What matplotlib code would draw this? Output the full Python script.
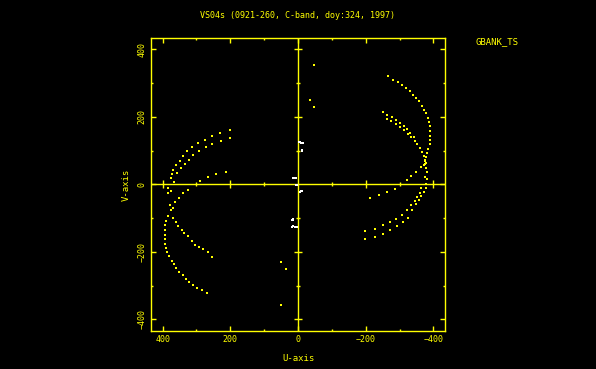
import matplotlib
matplotlib.use("Agg")
import matplotlib.pyplot as plt
import numpy as np

YEL = "#ffff00"

# ---- data (u, v in the chart's units) ----
left_u = [201, 200, 229, 227, 254, 253, 275, 272, 295, 292, 313, 309, 327, 323, 339, 335,
          350, 347, 360, 356, 369, 367, 373, 376,
          213, 243, 267, 290, 324, 339, 351,
          383, 376, 383,
          364, 378, 370, 376, 383, 369, 390, 361, 393, 354, 393, 344, 393, 336, 393, 326,
          393, 314, 390, 305, 386, 292, 380, 280, 373, 265, 367, 255, 359, 351, 341, 332,
          322, 310, 297, 283, 268]
left_v = [160, 137, 153, 130, 143, 120, 133, 110, 122, 98, 110, 87, 98, 74, 84, 61,
          71, 48, 58, 35, 44, 7, 32, 20,
          38, 32, 22, 9, -15, -26, -39,
          -11, -20, -25,
          -52, -62, -69, -77, -94, -100, -109, -111, -121, -123, -135, -134, -149, -144, -162, -154,
          -176, -166, -188, -178, -201, -185, -213, -190, -226, -200, -237, -216, -248, -259, -269, -280,
          -289, -299, -308, -314, -322]

right_u = [-267, -280, -295, -308, -320, -330, -339, -349, -357, -365, -372, -378, -384, -387,
           -391, -391, -391, -391, -389, -385, -382, -377, -374, -371,
           -251, -264, -263, -277, -276, -290, -290, -302, -301, -313, -313, -323, -324, -332,
           -335, -341, -344, -351, -359, -365, -371, -375, -377,
           -374, -377, -381, -374, -381, -362, -347, -335, -322, -287, -264, -239, -212,
           -379, -377, -364, -371, -359, -364, -351, -357, -344, -347, -335, -337, -322, -325,
           -307, -310, -290, -293, -271, -273, -251, -251, -226, -226, -199, -199]
right_v = [320, 311, 305, 296, 287, 276, 266, 255, 246, 234, 222, 211, 198, 184,
           172, 159, 145, 131, 119, 106, 94, 81, 69, 59,
           216, 207, 194, 199, 187, 191, 178, 182, 169, 172, 160, 164, 150, 153,
           142, 142, 130, 120, 107, 96, 84, 73, 63,
           61, 49, 36, 22, 17, 51, 36, 25, 12, -13, -23, -32, -40,
           2, -10, -10, -21, -25, -35, -38, -47, -49, -59, -62, -75, -77, -99,
           -89, -111, -102, -123, -111, -136, -121, -146, -133, -156, -138, -163]

iso_u = [-47, -35, -47, 51, 37, 51]
iso_v = [354, 249, 229, -230, -249, -356]

white_u = [-2, -6, -10, -14, -12, -13, 6, 9, 12, 15, 2, 6, -6, -10, -13, 15, 16, 18, 4, 10, 16, 17]
white_v = [126, 126, 124, 122, 102, 98, 18, 19, 19, 18, -1, -1, -21, -20, -18, -102, -106, -104,
           -125, -125, -124, -127]

major_ticks = [-400, -200, 0, 200, 400]
minor_ticks = [-300, -100, 100, 300]
tick_labels = ["\u2212400", "\u2212200", "0", "200", "400"]

title = "VS04s (0921-260, C-band, doy:324, 1997)"

# ---- figure ----
fig = plt.figure(figsize=(5.96, 3.69), dpi=100, facecolor="black")
ax = fig.add_axes([0.2529, 0.1022, 0.4943, 0.7957], facecolor="black")
ax.set_xlim(435, -435)
ax.set_ylim(-435, 435)

for s in ax.spines.values():
    s.set_color(YEL)
    s.set_linewidth(1.0)

ax.axhline(0, color=YEL, lw=1.0, zorder=2)
ax.axvline(0, color=YEL, lw=1.0, zorder=2)

# cross ticks on the centre lines
nz_major = [t for t in major_ticks if t != 0]
ax.plot(nz_major, [0] * len(nz_major), ls="none", marker="|", ms=6, mew=1.0, color=YEL, zorder=2)
ax.plot(minor_ticks, [0] * len(minor_ticks), ls="none", marker="|", ms=3.5, mew=1.0, color=YEL, zorder=2)
ax.plot([0] * len(nz_major), nz_major, ls="none", marker="_", ms=6, mew=1.0, color=YEL, zorder=2)
ax.plot([0] * len(minor_ticks), minor_ticks, ls="none", marker="_", ms=3.5, mew=1.0, color=YEL, zorder=2)

ax.set_xticks(major_ticks)
ax.set_yticks(major_ticks)
ax.set_xticks(minor_ticks, minor=True)
ax.set_yticks(minor_ticks, minor=True)
ax.set_xticklabels(tick_labels)
ax.set_yticklabels(tick_labels, rotation=90, va="center")
ax.tick_params(which="both", direction="in", top=True, right=True, colors=YEL,
               width=1.0, labelsize=6, labelcolor=YEL)
ax.tick_params(which="major", length=3.3, pad=3)
ax.tick_params(which="minor", length=1.7)
for lab in ax.get_xticklabels() + ax.get_yticklabels():
    lab.set_family("DejaVu Sans Mono")

mk = dict(ls="none", marker="s", ms=1.7, mew=0, zorder=3)
ax.plot(left_u, left_v, color=YEL, **mk)
ax.plot(right_u, right_v, color=YEL, **mk)
ax.plot(iso_u, iso_v, color=YEL, **mk)
ax.plot(white_u, white_v, color="white", **mk)

ax.set_xlabel("U-axis", color=YEL, fontsize=6.5, family="DejaVu Sans Mono", labelpad=7)
ax.set_ylabel("V-axis", color=YEL, fontsize=6.5, family="DejaVu Sans Mono", labelpad=5)

fig.text(0.4995, 1 - 16 / 369, title, color=YEL, fontsize=6, family="DejaVu Sans Mono",
         ha="center", va="center")
fig.text(475 / 596, 1 - 42 / 369, "GBANK_TS", color=YEL, fontsize=6.5, family="DejaVu Sans Mono",
         ha="left", va="center")

fig.savefig("out.png", dpi=100, facecolor="black")
